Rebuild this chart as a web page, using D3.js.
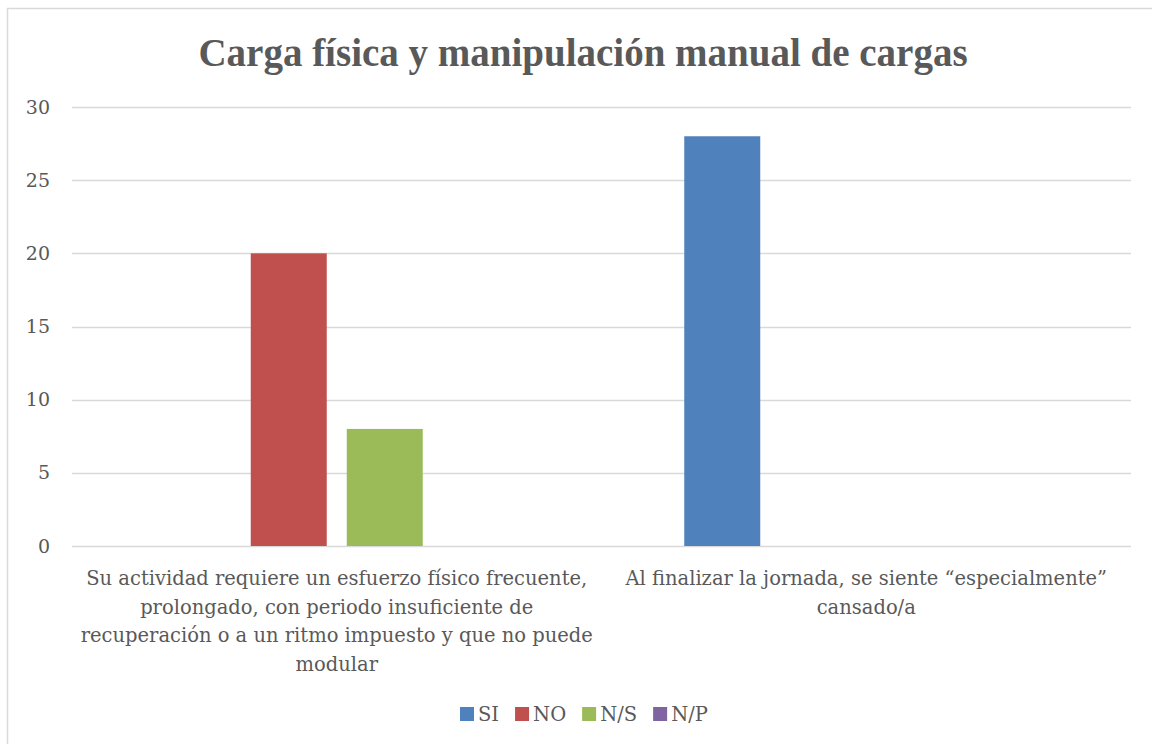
<!DOCTYPE html>
<html>
<head>
<meta charset="utf-8">
<script src="https://cdn.jsdelivr.net/npm/d3@7"></script>
<style>
  body { margin: 0; background: #fff; }
  text { font-family: "DejaVu Serif", "Liberation Serif", serif; fill: #595959; }
</style>
</head>
<body>
<svg id="chart"></svg>
<script>
const title = "Carga física y manipulación manual de cargas"
const categories = [
    "Su actividad requiere un esfuerzo físico frecuente, prolongado, con periodo insuficiente de recuperación o a un ritmo impuesto y que no puede modular",
    "Al finalizar la jornada, se siente “especialmente” cansado/a"
]
const series = ["SI", "NO", "N/S", "N/P"]
const values = {
    "SI":  [0, 28],
    "NO":  [20, 0],
    "N/S": [8, 0],
    "N/P": [0, 0]
}
const yTicks = [0, 5, 10, 15, 20, 25, 30]
const colors = ["#4F81BD", "#C0504D", "#9BBB59", "#8064A2"]

const width = 1152
const height = 744
const plot = {left: 72, right: 1131, top: 107, bottom: 546}

const svg = d3.select("#chart").attr("width", width).attr("height", height)

svg.append("rect").attr("width", width).attr("height", height).attr("fill", "#fff")
// chart frame (right/bottom run off the picture)
svg.append("rect")
    .attr("x", 7.5).attr("y", 8.5)
    .attr("width", 1170).attr("height", 770)
    .attr("fill", "none").attr("stroke", "#d9d9d9").attr("stroke-width", 1.5)

svg.append("text")
    .attr("x", 583).attr("y", 66)
    .attr("text-anchor", "middle")
    .style("font-family", "'Liberation Serif', serif")
    .style("font-size", "39px").style("font-weight", "bold")
    .text(title)

const x0 = d3.scaleBand().domain(categories).range([plot.left, plot.right])
const x1 = d3.scaleBand().domain(series).range([0, x0.bandwidth()])
    .paddingInner(20/96).paddingOuter(0.862)
const y = d3.scaleLinear().domain([0, 30]).range([plot.bottom, plot.top])
const color = d3.scaleOrdinal().domain(series).range(colors)

// gridlines
svg.append("g").selectAll("line").data(yTicks).enter().append("line")
    .attr("x1", plot.left).attr("x2", plot.right)
    .attr("y1", d => Math.round(y(d)) + 0.5).attr("y2", d => Math.round(y(d)) + 0.5)
    .attr("stroke", "#d9d9d9").attr("stroke-width", 1.5)

// y labels
svg.append("g").selectAll("text").data(yTicks).enter().append("text")
    .attr("x", 50).attr("y", d => y(d))
    .attr("dy", "0.35em")
    .attr("text-anchor", "end")
    .style("font-size", "19px")
    .text(d => d)

// bars
const rows = []
categories.forEach((c, i) => {
    series.forEach(s => rows.push({cat: c, series: s, value: values[s][i]}))
})
svg.append("g").selectAll("rect").data(rows.filter(d => d.value > 0)).enter().append("rect")
    .attr("x", d => x0(d.cat) + x1(d.series))
    .attr("width", x1.bandwidth())
    .attr("y", d => y(d.value))
    .attr("height", d => y(0) - y(d.value))
    .attr("fill", d => color(d.series))

// category labels, wrapped
function wrap(textSel, maxWidth) {
    textSel.each(function(d) {
        const t = d3.select(this)
        const words = d.split(" ")
        let line = []
        let tspan = t.append("tspan").attr("x", t.attr("x")).attr("dy", 0)
        for (const w of words) {
            line.push(w)
            tspan.text(line.join(" "))
            if (tspan.node().getComputedTextLength() > maxWidth && line.length > 1) {
                line.pop()
                tspan.text(line.join(" "))
                line = [w]
                tspan = t.append("tspan").attr("x", t.attr("x")).attr("dy", 28.5).text(w)
            }
        }
    })
}
svg.append("g").selectAll("text").data(categories).enter().append("text")
    .attr("x", d => x0(d) + x0.bandwidth() / 2)
    .attr("y", 585)
    .attr("text-anchor", "middle")
    .style("font-size", "19.5px")
    .call(wrap, 524)

// legend
const legend = svg.append("g")
let lx = 460
series.forEach(s => {
    legend.append("rect").attr("x", lx).attr("y", 707).attr("width", 14).attr("height", 14)
        .attr("fill", color(s))
    const t = legend.append("text").attr("x", lx + 18).attr("y", 721)
        .style("font-size", "19.5px").text(s)
    lx += 18 + t.node().getComputedTextLength() + 16
})
</script>
</body>
</html>
